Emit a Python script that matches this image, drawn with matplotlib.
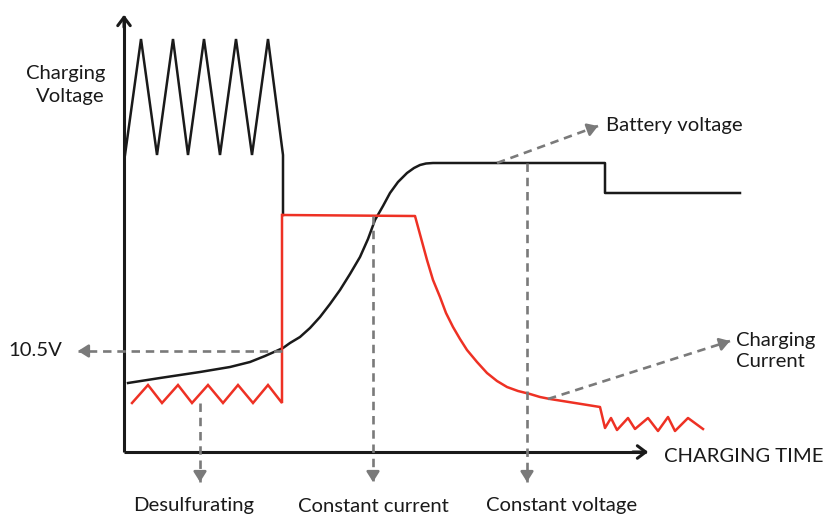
import matplotlib
matplotlib.use("Agg")
import matplotlib.pyplot as plt

# ---- data (schematic units: time to the right, level downward like the picture) ----
pulse_time = [125, 141, 157, 173, 188, 204, 220, 236, 252, 268, 283, 283]
pulse_level = [155, 39, 155, 39, 155, 39, 155, 39, 155, 39, 155, 215]

battery_time = [128, 160, 200, 230, 250, 265, 283, 290, 300, 310, 320, 330, 340, 350, 360, 368,
                375, 383, 390, 398, 407, 414, 420, 426, 433, 450, 605, 605, 740]
battery_level = [383, 378, 372, 367, 362, 356, 348, 343, 337, 328, 317, 304, 290, 274, 257, 239,
                 220, 206, 193, 182, 173, 168, 165, 163.5, 163, 163, 163, 193, 193]

desulf_time = [132, 148, 162, 178, 192, 208, 223, 238, 253, 268, 282, 282]
desulf_level = [403, 385, 403, 385, 403, 385, 403, 385, 403, 385, 403, 215]

current_time = [283, 413, 415, 421, 427, 433, 440, 446, 453, 460, 467, 477, 487, 497, 507, 518,
                530, 540, 550, 600, 605, 611, 617, 628, 635, 648, 658, 668, 675, 688, 703]
current_level = [215, 216, 216, 238, 260, 280, 297, 313, 327, 339, 350, 362, 373, 381, 387, 391,
                 394, 397, 399, 407, 428, 418, 430, 418, 429, 418, 431, 417, 431, 418, 429]

level_10v5 = 351
phase_labels = ["Desulfurating", "Constant current", "Constant voltage"]
phase_time = [200, 373, 527]
phase_start = [403, 216, 163]
phase_label_x = [194, 373, 562]

BLACK = "#1a1a1a"
RED = "#ee3124"
GRAY = "#7a7a7a"
FONT = "Lato"
FS = 14.6

fig = plt.figure(figsize=(8.32, 5.18), dpi=100)
ax = fig.add_axes([0, 0, 1, 1])
ax.set_xlim(0, 832)
ax.set_ylim(518, 0)
ax.axis("off")

# axes with arrows
ax.plot([124, 124], [452, 16], color=BLACK, lw=2.2, solid_capstyle="butt")
ax.plot([124, 646], [452, 452], color=BLACK, lw=2.2, solid_capstyle="butt")
ax.annotate("", xy=(124, 12), xytext=(124, 30),
            arrowprops=dict(arrowstyle="->,head_length=0.6,head_width=0.45", color=BLACK, lw=2.2))
ax.annotate("", xy=(651, 452), xytext=(630, 452),
            arrowprops=dict(arrowstyle="->,head_length=0.6,head_width=0.45", color=BLACK, lw=2.2))

# series
ax.plot(pulse_time, pulse_level, color=BLACK, lw=1.8, solid_joinstyle="miter")
ax.plot(battery_time, battery_level, color=BLACK, lw=1.8, solid_joinstyle="round")
ax.plot(desulf_time, desulf_level, color=RED, lw=1.8, solid_joinstyle="miter")
ax.plot(current_time, current_level, color=RED, lw=1.8, solid_joinstyle="round")


def dashed_arrow(x0, y0, x1, y1):
    ax.plot([x0, x1], [y0, y1], color=GRAY, lw=1.9, ls=(0, (3.2, 2.2)))
    dx, dy = x1 - x0, y1 - y0
    n = (dx * dx + dy * dy) ** 0.5
    ax.annotate("", xy=(x1, y1), xytext=(x1 - dx / n * 10, y1 - dy / n * 10),
                arrowprops=dict(arrowstyle="-|>,head_length=0.6,head_width=0.38",
                                color=GRAY, lw=1.9, shrinkA=0, shrinkB=0))


# 10.5V guide
dashed_arrow(282, level_10v5, 78, level_10v5)
ax.text(8, level_10v5, "10.5V", fontsize=FS, family=FONT, color=BLACK, va="center", ha="left")

# phase guides
for t, s, lx, lab in zip(phase_time, phase_start, phase_label_x, phase_labels):
    dashed_arrow(t, s, t, 482)
    ax.text(lx, 506, lab, fontsize=FS, family=FONT, color=BLACK, va="center", ha="center")

# callouts
dashed_arrow(497, 163, 598, 126)
ax.text(606, 126, "Battery voltage", fontsize=FS, family=FONT, color=BLACK, va="center", ha="left")
dashed_arrow(548, 399, 730, 341)
ax.text(736, 351, "Charging\nCurrent", fontsize=FS, family=FONT, color=BLACK, va="center",
        ha="left", linespacing=1.35)

ax.text(105, 85, "Charging\nVoltage", fontsize=FS, family=FONT, color=BLACK, va="center",
        ha="right", linespacing=1.4)
ax.text(664, 457, "CHARGING TIME", fontsize=FS, family=FONT, color=BLACK, va="center", ha="left")

fig.savefig("out.png", dpi=100, facecolor="white")
